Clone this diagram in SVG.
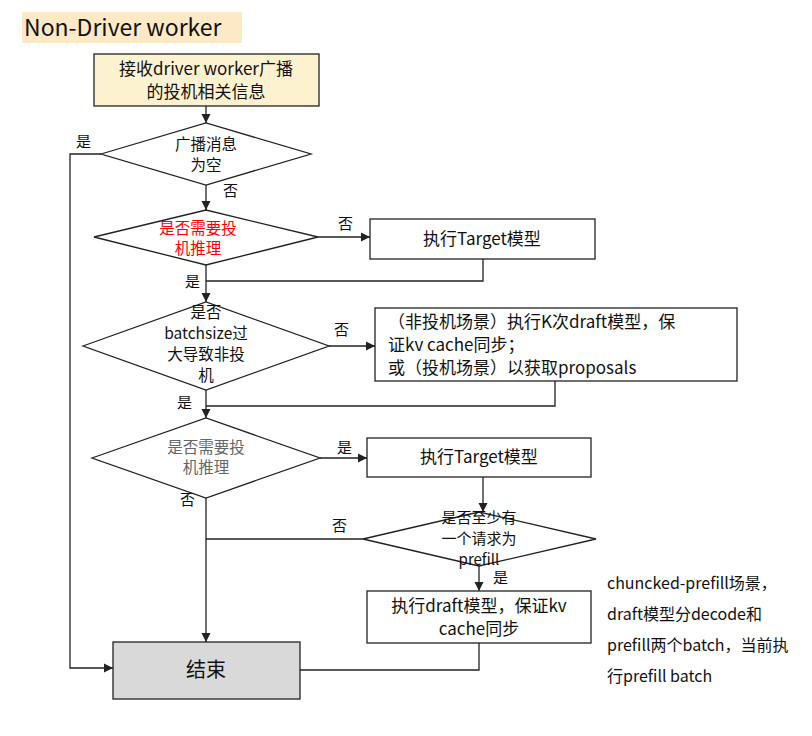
<svg xmlns="http://www.w3.org/2000/svg" width="812" height="736" viewBox="0 0 812 736">
<defs>
<marker id="ah" viewBox="0 0 10 10" refX="10" refY="5" markerWidth="7" markerHeight="7" orient="auto"><path d="M0,0 L10,5 L0,10 z" fill="#222"/></marker>
<style>
text{font-family:"Noto Sans CJK SC","Liberation Sans",sans-serif;fill:#111}
.s{stroke:#222;stroke-width:1.3;fill:#fff}
.t{font-size:17px;text-anchor:middle}
.d{font-size:15.5px;text-anchor:middle}
.l{font-size:15px}
.c{fill:none;stroke:#222;stroke-width:1.3}
</style>
</defs>
<rect width="812" height="736" fill="#fff"/>
<rect x="22" y="12" width="220" height="31" fill="#fde9c6"/>
<text x="24" y="36" style="font-size:23px">Non-Driver worker</text>
<g id="connectors">
<path class="c" d="M206,106 V123" marker-end="url(#ah)"/>
<path class="c" d="M101,154 H70 V668 H113" marker-end="url(#ah)"/>
<path class="c" d="M206,185 V210" marker-end="url(#ah)"/>
<path class="c" d="M318,237 H370" marker-end="url(#ah)"/>
<path class="c" d="M483,259 V281 H206"/>
<path class="c" d="M206,265 V302" marker-end="url(#ah)"/>
<path class="c" d="M329,346 H375" marker-end="url(#ah)"/>
<path class="c" d="M555,381 V406 H206"/>
<path class="c" d="M206,390 V418" marker-end="url(#ah)"/>
<path class="c" d="M320,458 H367" marker-end="url(#ah)"/>
<path class="c" d="M483,477 V512" marker-end="url(#ah)"/>
<path class="c" d="M363,539 H206"/>
<path class="c" d="M206,498 V642" marker-end="url(#ah)"/>
<path class="c" d="M479,566 V591" marker-end="url(#ah)"/>
<path class="c" d="M479,643 V670 H275" marker-end="url(#ah)"/>
<text class="l" x="76" y="147">是</text>
<text class="l" x="223" y="196">否</text>
<text class="l" x="338" y="229">否</text>
<text class="l" x="185" y="287">是</text>
<text class="l" x="334" y="335">否</text>
<text class="l" x="177" y="408">是</text>
<text class="l" x="337" y="453">是</text>
<text class="l" x="180" y="505">否</text>
<text class="l" x="332" y="531">否</text>
<text class="l" x="493" y="583">是</text>
</g>
<g id="start"><rect class="s" x="94" y="54" width="225" height="52" style="fill:#fdf2d0"/>
<text class="t" x="206" y="75">接收driver worker广播</text><text class="t" x="206" y="98">的投机相关信息</text></g>
<g id="d1"><polygon class="s" points="101,154 206,123 311,154 206,185"/>
<text class="d" x="206" y="150">广播消息</text><text class="d" x="206" y="171">为空</text></g>
<g id="d2"><polygon class="s" points="94,237 206,210 318,237 206,265"/>
<text class="d" x="198" y="234" style="fill:#f00">是否需要投</text><text class="d" x="198" y="254" style="fill:#f00">机推理</text></g>
<g id="t1"><rect class="s" x="370" y="219" width="225" height="40"/><text class="t" x="482" y="245">执行Target模型</text></g>
<g id="d3"><polygon class="s" points="83,346 206,302 329,346 206,390"/>
<text class="d" x="206" y="318">是否</text><text class="d" x="206" y="339">batchsize过</text><text class="d" x="206" y="360">大导致非投</text><text class="d" x="206" y="381">机</text></g>
<g id="k"><rect class="s" x="375" y="308" width="362" height="73"/>
<text class="l" x="388" y="328" style="font-size:17px">（非投机场景）执行K次draft模型，保</text>
<text class="l" x="388" y="351" style="font-size:17px">证kv cache同步；</text>
<text class="l" x="388" y="374" style="font-size:17px">或（投机场景）以获取proposals</text></g>
<g id="d4"><polygon class="s" points="92,458 206,418 320,458 206,498"/>
<text class="d" x="206" y="453" style="fill:#666">是否需要投</text><text class="d" x="206" y="473" style="fill:#666">机推理</text></g>
<g id="t2"><rect class="s" x="367" y="438" width="224" height="39"/><text class="t" x="479" y="463">执行Target模型</text></g>
<g id="d5"><polygon class="s" points="363,539 479,512 596,539 479,566"/>
<text class="d" x="479" y="523" style="font-size:15px">是否至少有</text><text class="d" x="479" y="544" style="font-size:15px">一个请求为</text><text class="d" x="479" y="565" style="font-size:15px">prefill</text></g>
<g id="draft"><rect class="s" x="367" y="591" width="224" height="52"/>
<text class="t" x="479" y="612">执行draft模型，保证kv</text><text class="t" x="479" y="635">cache同步</text></g>
<g id="end"><rect class="s" x="113" y="642" width="187" height="57" style="fill:#d9d9d9"/><text class="t" x="206" y="677" style="font-size:20px">结束</text></g>
<g id="note" style="font-size:16px">
<text x="607" y="589">chuncked-prefill场景，</text>
<text x="607" y="620">draft模型分decode和</text>
<text x="607" y="651">prefill两个batch，当前执</text>
<text x="607" y="682">行prefill batch</text></g>
</svg>
